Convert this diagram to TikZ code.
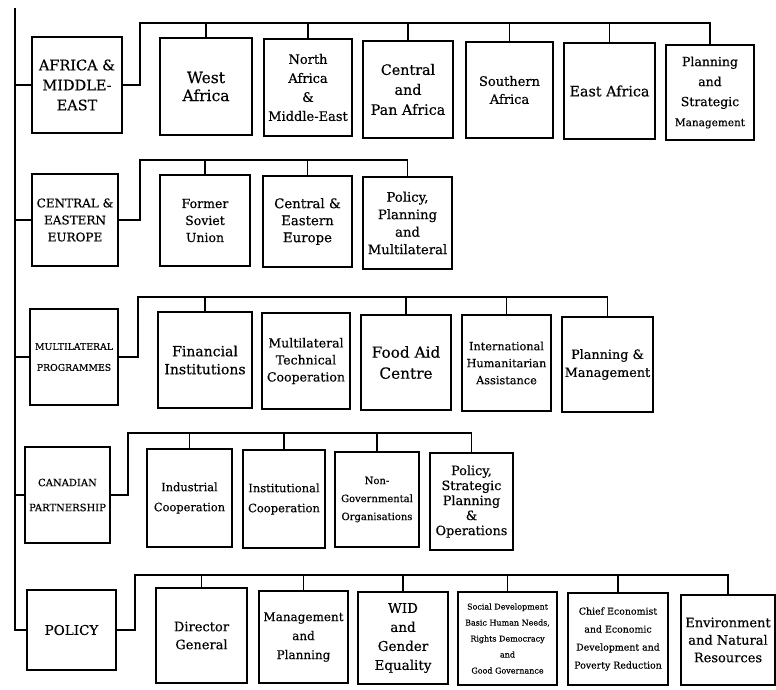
\documentclass[tikz,border=0pt]{standalone}
\usepackage{fontspec}
\setmainfont{DejaVu Serif}[FakeBold=0.4]
\newcommand{\fsz}[2]{\fontsize{#1}{#2}\selectfont}
\tikzset{unit/.style={draw, line width=1.3pt, align=center, inner sep=0pt}}

\begin{document}
\begin{tikzpicture}[x=1pt,y=-1pt,line width=1.3pt]
\useasboundingbox (0,0) rectangle (776,689);
% branch heads
\node[unit,minimum width=90,minimum height=96,font=\fsz{14.5}{20}] (afr) at (77,85) {AFRICA \&\\MIDDLE-\\EAST};
\node[unit,minimum width=86,minimum height=92,font=\fsz{12}{17}] (cee) at (75,220) {CENTRAL \&\\EASTERN\\EUROPE};
\node[unit,minimum width=88,minimum height=96,font=\fsz{9.3}{21}] (mlp) at (74,357) {MULTILATERAL\\PROGRAMMES};
\node[unit,minimum width=85,minimum height=96,font=\fsz{10}{25}] (cnp) at (67.5,495) {CANADIAN\\PARTNERSHIP};
\node[unit,minimum width=89,minimum height=80,font=\fsz{13.5}{18}] (pol) at (71.5,630) {POLICY};
% Africa and Middle-East
\node[unit,minimum width=92,minimum height=97,font=\fsz{15.5}{18}] (wafr) at (206,86.5) {West\\Africa};
\node[unit,minimum width=88,minimum height=97,font=\fsz{13}{19}] (nafr) at (308,87.5) {North\\Africa\\\&\\Middle-East};
\node[unit,minimum width=90,minimum height=97,font=\fsz{14.3}{20}] (cafr) at (408,89.5) {Central\\and\\Pan Africa};
\node[unit,minimum width=87,minimum height=96,font=\fsz{13}{18}] (safr) at (509.5,90) {Southern\\Africa};
\node[unit,minimum width=91,minimum height=96,font=\fsz{14.3}{18}] (eafr) at (609.5,91) {East Africa};
\node[unit,minimum width=88,minimum height=95,font=\fsz{12.5}{20}] (pasm) at (710,92.5) {Planning\\and\\Strategic\\{\fsz{10.5}{20}Management}};
% Central and Eastern Europe
\node[unit,minimum width=90,minimum height=91,font=\fsz{12.5}{17}] (fsu) at (205,220.5) {Former\\Soviet\\Union};
\node[unit,minimum width=89,minimum height=91,font=\fsz{13.3}{17}] (ceeu) at (307.5,221.5) {Central \&\\Eastern\\Europe};
\node[unit,minimum width=89,minimum height=92,font=\fsz{13.2}{17.5}] (ppm) at (407.5,223) {Policy,\\Planning\\and\\Multilateral};
% Multilateral Programmes
\node[unit,minimum width=94,minimum height=96,font=\fsz{14}{18}] (fin) at (205,360) {Financial\\Institutions};
\node[unit,minimum width=88,minimum height=96,font=\fsz{12.5}{17}] (mtc) at (306,361) {Multilateral\\Technical\\Cooperation};
\node[unit,minimum width=90,minimum height=95,font=\fsz{15.3}{21}] (fac) at (406,362.5) {Food Aid\\Centre};
\node[unit,minimum width=89,minimum height=96,font=\fsz{11.3}{17}] (iha) at (506.5,363) {International\\Humanitarian\\Assistance};
\node[unit,minimum width=91,minimum height=95,font=\fsz{12.8}{18}] (plm) at (607.5,364.5) {Planning \&\\Management};
% Canadian Partnership
\node[unit,minimum width=85,minimum height=98,font=\fsz{11.4}{20}] (ind) at (189.5,498) {Industrial\\Cooperation};
\node[unit,minimum width=82,minimum height=98,font=\fsz{11.5}{20}] (inst) at (284,499) {Institutional\\Cooperation};
\node[unit,minimum width=84,minimum height=95,font=\fsz{10}{18}] (ngo) at (377,499.5) {Non-\\Governmental\\Organisations};
\node[unit,minimum width=83,minimum height=97,font=\fsz{12.8}{15}] (pspo) at (471.5,501.5) {Policy,\\Strategic\\Planning\\\&\\Operations};
% Policy
\node[unit,minimum width=91,minimum height=95,font=\fsz{13}{18}] (dg) at (201.5,635.5) {Director\\General};
\node[unit,minimum width=89,minimum height=92,font=\fsz{12}{19}] (mgp) at (303.5,637) {Management\\and\\Planning};
\node[unit,minimum width=90,minimum height=92,font=\fsz{13.5}{19}] (wid) at (403,638) {WID\\and\\Gender\\Equality};
\node[unit,minimum width=99,minimum height=93,font=\fsz{8}{16}] (sdev) at (507.5,638.5) {Social Development\\Basic Human Needs,\\Rights Democracy\\and\\Good Governance};
\node[unit,minimum width=100,minimum height=92,font=\fsz{9.4}{18}] (ceco) at (618,639) {Chief Economist\\and Economic\\Development and\\Poverty Reduction};
\node[unit,minimum width=94,minimum height=90,font=\fsz{13}{17.5}] (env) at (728,640) {Environment\\and Natural\\Resources};
% spine
\coordinate (top) at (15,8);
\draw (top) |- (pol.west);
\foreach \n in {afr,cee,mlp,cnp} \draw (\n.west) -- (\n.west -| top);
% brackets
\coordinate (afrbar) at (140,23);
\coordinate (ceebar) at (140,160);
\coordinate (mlpbar) at (138,297);
\coordinate (cnpbar) at (128,433);
\coordinate (polbar) at (135,575);
\draw (afr.east) -| (afrbar) -| (pasm.north);
\draw (cee.east) -| (ceebar) -| (ppm.north);
\draw (mlp.east) -| (mlpbar) -| (plm.north);
\draw (cnp.east) -| (cnpbar) -| (pspo.north);
\draw (pol.east) -| (polbar) -| (env.north);
\foreach \n in {wafr,nafr,cafr,safr,eafr} \draw (\n.north) -- (\n.north |- afrbar);
\foreach \n in {fsu,ceeu} \draw (\n.north) -- (\n.north |- ceebar);
\foreach \n in {fin,fac,iha} \draw (\n.north) -- (\n.north |- mlpbar);
\foreach \n in {ind,inst,ngo} \draw (\n.north) -- (\n.north |- cnpbar);
\foreach \n in {dg,mgp,wid,sdev,ceco} \draw (\n.north) -- (\n.north |- polbar);
\end{tikzpicture}
\end{document}
